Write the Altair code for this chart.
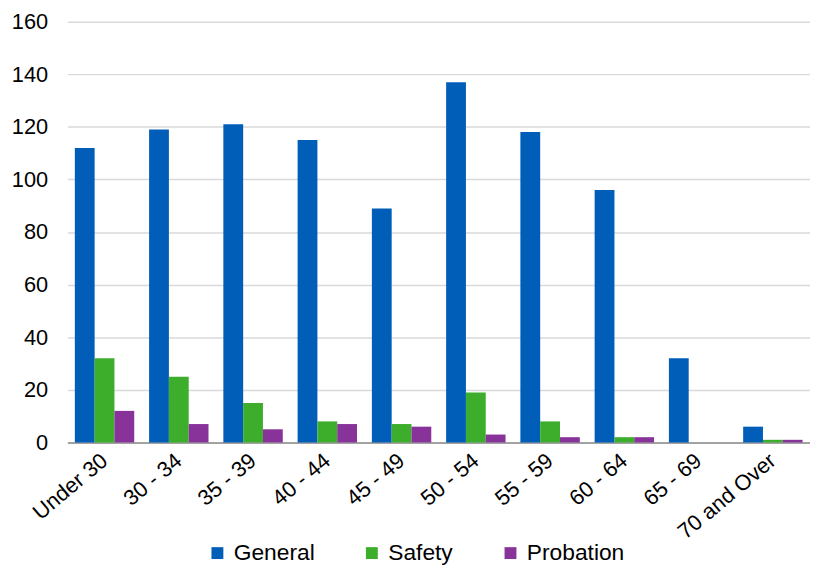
import altair as alt
import pandas as pd

categories = ["Under 30", "30 - 34", "35 - 39", "40 - 44", "45 - 49",
              "50 - 54", "55 - 59", "60 - 64", "65 - 69", "70 and Over"]
series = ["General", "Safety", "Probation"]
general = [112, 119, 121, 115, 89, 137, 118, 96, 32, 6]
safety = [32, 25, 15, 8, 7, 19, 8, 2, 0, 1]
probation = [12, 7, 5, 7, 6, 3, 2, 2, 0, 1]
colors = ["#005EB8", "#3DAE2B", "#87339A"]

rows = []
for s, vals in zip(series, [general, safety, probation]):
    for c, v in zip(categories, vals):
        rows.append({"Age": c, "Type": s, "Count": v})
df = pd.DataFrame(rows)

font = "Liberation Sans"

chart = alt.Chart(df).mark_bar().encode(
    x=alt.X("Age:N", sort=categories,
            scale=alt.Scale(paddingInner=0.2, paddingOuter=0.1),
            axis=alt.Axis(title=None, labelAngle=-40, labelAlign="right",
                          labelBaseline="middle", labelPadding=15,
                          labelFontSize=22, labelFont=font, labelColor="#000000",
                          ticks=False, domainColor="#8c8c8c", domainWidth=1.5)),
    xOffset=alt.XOffset("Type:N", sort=series),
    y=alt.Y("Count:Q", scale=alt.Scale(domain=[0, 160], nice=False),
            axis=alt.Axis(title=None, values=list(range(0, 161, 20)),
                          labelFontSize=22, labelFont=font, labelColor="#000000",
                          labelPadding=20, ticks=False, domain=False,
                          gridColor="#d9d9d9", gridWidth=1.5)),
    color=alt.Color("Type:N", sort=series,
                    scale=alt.Scale(domain=series, range=colors),
                    legend=alt.Legend(title=None, orient="none", direction="horizontal",
                                      legendX=140, legendY=525,
                                      symbolType="square", symbolSize=144,
                                      symbolStrokeWidth=0,
                                      labelFontSize=23, labelFont=font,
                                      labelColor="#000000", labelOffset=5,
                                      columnPadding=46)),
).properties(
    width=750, height=425,
    autosize=alt.AutoSizeParams(type="none"),
    padding={"left": 60, "top": 11, "right": 0, "bottom": 122},
).configure_view(stroke=None)

chart.save("out.html", embed_options={"renderer": "svg", "actions": False})
